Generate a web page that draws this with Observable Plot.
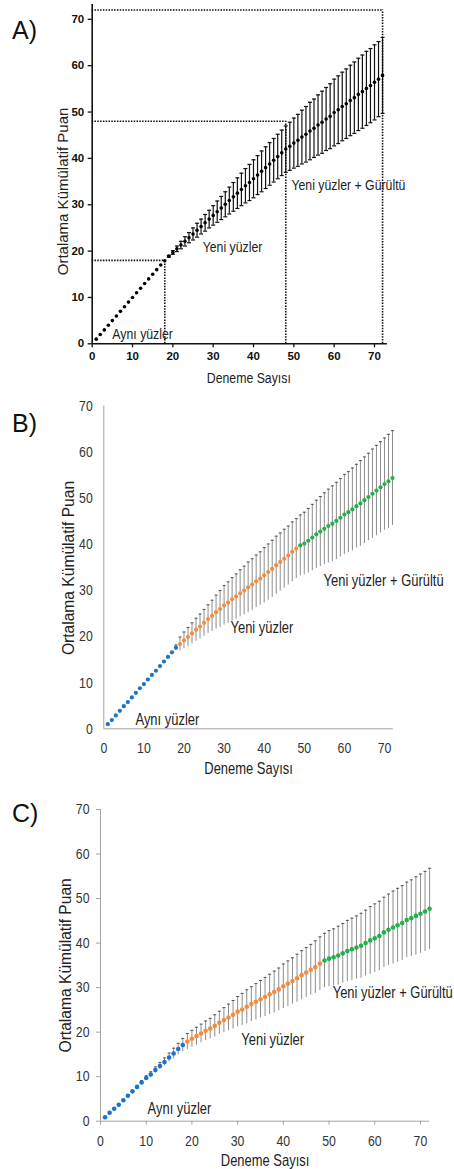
<!DOCTYPE html>
<html>
<head>
<meta charset="utf-8">
<script src="https://cdn.jsdelivr.net/npm/d3@7"></script>
<script src="https://cdn.jsdelivr.net/npm/@observablehq/plot@0.6"></script>
<style>
  body { margin: 0; background: #fff; }
  #root { position: relative; width: 454px; height: 1169px; overflow: hidden; background: #fff; }
  .panel { position: absolute; left: 0; }
  .tag { position: absolute; left: 12px; font: 25px/25px "Liberation Sans", Arial, sans-serif; color: #111; }
</style>
</head>
<body>
<div id="root"></div>
<script>
// ---------- data ----------
const trials = d3.range(1, 73);
const blockNames = ["Aynı yüzler", "Yeni yüzler", "Yeni yüzler + Gürültü"];
const blockEnds = [18, 48, 72];
const blockColors = ["#1b72c9", "#f58b3c", "#22b04b"];
const xTicks = [0, 10, 20, 30, 40, 50, 60, 70];
const yTicks = [0, 10, 20, 30, 40, 50, 60, 70];
const xTitle = "Deneme Sayısı";
const yTitle = "Ortalama Kümülatif Puan";
const panelTags = ["A)", "B)", "C)"];

// Panel A
const aMean = [
  1.0, 2.0, 3.0, 4.0, 5.0, 6.0, 7.0, 8.0, 9.0, 10.0, 11.0, 12.0, 13.0, 14.0, 15.0, 16.0, 17.0, 17.9,
  18.9, 19.7, 20.5, 21.3, 22.1, 22.9, 23.7, 24.5, 25.3, 26.1, 26.9, 27.7, 28.5, 29.3, 30.1, 30.9,
  31.7, 32.5, 33.3, 34.1, 34.8, 35.6, 36.4, 37.2, 38.0, 38.8, 39.6, 40.4, 41.2, 42.0,
  42.6, 43.3, 43.9, 44.6, 45.2, 45.9, 46.5, 47.2, 47.8, 48.5, 49.1, 49.9, 50.5, 51.2, 51.8, 52.5,
  53.1, 53.8, 54.4, 55.1, 55.7, 56.4, 57.1, 57.9
];
const aErr = [
  0, 0, 0, 0, 0, 0, 0, 0, 0, 0, 0, 0, 0, 0, 0, 0, 0, 0,
  0.2, 0.4, 0.6, 0.8, 1.0, 1.1, 1.3, 1.5, 1.6, 1.8, 1.9, 2.1, 2.3, 2.5, 2.7, 2.9,
  3.1, 3.3, 3.5, 3.7, 3.9, 4.1, 4.2, 4.4, 4.5, 4.6, 4.7, 4.8, 4.9, 5.0,
  5.2, 5.4, 5.6, 5.8, 6.0, 6.2, 6.3, 6.5, 6.7, 6.8, 7.0, 7.2, 7.3, 7.4, 7.5, 7.6,
  7.7, 7.8, 7.9, 8.0, 8.0, 8.1, 8.1, 8.2
];
// Panel B
const bMean = [
  1.0, 1.9, 2.9, 3.9, 4.9, 5.8, 6.8, 7.8, 8.8, 9.7, 10.7, 11.7, 12.6, 13.6, 14.6, 15.6, 16.6, 17.6,
  18.4, 19.2, 19.9, 20.7, 21.5, 22.2, 23.0, 23.8, 24.5, 25.3, 26.0, 26.8, 27.4, 28.1, 28.7, 29.4,
  30.0, 30.7, 31.3, 32.0, 32.6, 33.3, 34.0, 34.7, 35.5, 36.2, 36.9, 37.6, 38.4, 39.1,
  39.8, 40.2, 40.8, 41.5, 42.2, 42.8, 43.4, 44.0, 44.5, 45.1, 45.8, 46.5, 47.0, 47.6, 48.3, 48.9,
  49.6, 50.3, 51.0, 51.7, 52.4, 53.1, 53.7, 54.4
];
const bErr = [
  0, 0, 0, 0, 0, 0, 0, 0, 0, 0, 0, 0, 0, 0, 0, 0, 0, 0.6,
  1.5, 1.8, 2.1, 2.3, 2.5, 2.7, 2.9, 3.1, 3.4, 3.7, 4.0, 4.3, 4.5, 4.7, 4.9, 5.1,
  5.3, 5.5, 5.6, 5.7, 5.8, 6.0, 6.1, 6.2, 6.3, 6.3, 6.4, 6.4, 6.5, 6.5,
  6.6, 6.8, 7.0, 7.2, 7.4, 7.6, 7.8, 8.0, 8.2, 8.4, 8.5, 8.7, 8.8, 9.0, 9.1, 9.3,
  9.4, 9.5, 9.7, 9.8, 9.9, 10.0, 10.2, 10.3
];
// Panel C
const cMean = [
  0.9, 1.9, 2.8, 3.7, 4.7, 5.7, 6.7, 7.7, 8.7, 9.7, 10.5, 11.5, 12.4, 13.3, 14.3, 15.2, 16.2, 17.1,
  17.9, 18.5, 19.1, 19.7, 20.3, 20.8, 21.4, 22.1, 22.7, 23.3, 23.9, 24.6, 25.1, 25.7, 26.3, 26.8,
  27.4, 27.9, 28.5, 29.0, 29.6, 30.3, 30.9, 31.5, 32.1, 32.8, 33.4, 34.0, 34.6, 35.4,
  36.1, 36.5, 36.8, 37.2, 37.7, 38.2, 38.6, 39.0, 39.4, 40.0, 40.6, 41.1, 41.6, 42.4, 43.0, 43.5,
  44.0, 44.5, 45.2, 45.6, 46.1, 46.6, 47.1, 47.7
];
const cErr = [
  0, 0, 0, 0, 0, 0, 0, 0, 0.4, 0.5, 0.6, 0.7, 0.8, 0.9, 1.0, 1.2, 1.3, 1.5,
  1.8, 1.9, 2.0, 2.1, 2.2, 2.3, 2.5, 2.6, 2.8, 3.0, 3.2, 3.4, 3.6, 3.8, 3.9, 4.1,
  4.2, 4.4, 4.5, 4.7, 4.8, 5.0, 5.1, 5.2, 5.4, 5.5, 5.6, 5.7, 5.9, 6.0,
  6.1, 6.3, 6.4, 6.6, 6.7, 6.9, 7.0, 7.1, 7.3, 7.4, 7.6, 7.7, 7.8, 7.9, 8.0, 8.2,
  8.3, 8.4, 8.5, 8.6, 8.8, 8.9, 9.0, 9.1
];

// annotation anchors (data units) for block names
const aLabelX = [5.0, 27.4, 49.4], aLabelY = [2.0, 20.8, 34.2];
const bLabelX = [7.9, 31.6, 54.8], bLabelY = [2.0, 21.8, 32.0];
const cLabelX = [10.3, 30.8, 50.8], cLabelY = [2.8, 18.3, 28.7];

// ---------- helpers ----------
const NARROW = '"Liberation Sans Narrow", "Arial Narrow", "Liberation Sans", sans-serif';
const REG = '"Liberation Sans", Arial, sans-serif';
const CONDENSE = 0.82; // horizontal squeeze giving the reference's narrow lettering

function rows(mean, err) {
  return trials.map((t, i) => ({
    trial: t, mean: mean[i], err: err[i],
    lo: mean[i] - err[i], hi: mean[i] + err[i],
    block: blockNames[blockEnds.findIndex(e => t <= e)]
  }));
}
function labels(xs, ys) {
  return blockNames.map((name, i) => ({ name, x: xs[i], y: ys[i] }));
}
const capSymbol = {
  draw(ctx, size) {
    const w = Math.sqrt(size / Math.PI);
    ctx.moveTo(-w, 0); ctx.lineTo(w, 0);
  }
};

function titles(frameLeftDx, yDy, xDx, xDy, fontX, fontY) {
  return [
    Plot.text([xTitle], { text: d => d, frameAnchor: "bottom", dx: xDx, dy: xDy, lineAnchor: "middle",
      fontFamily: fontX.family, fontSize: fontX.size, fill: "#222", fontWeight: "normal" }),
    Plot.text([yTitle], { text: d => d, frameAnchor: "left", dx: frameLeftDx, dy: yDy, rotate: -90,
      textAnchor: "middle", lineAnchor: "middle",
      fontFamily: fontY.family, fontSize: fontY.size, fill: "#222", fontWeight: "normal" })
  ];
}

const root = document.getElementById("root");
// squeeze narrow-font texts horizontally about their own anchor point
// (Plot places each text with a translate() transform, so scaling after it keeps the anchor)
function condense(svg) {
  svg.querySelectorAll("text").forEach(t => {
    const fam = getComputedStyle(t).fontFamily || "";
    if (!fam.includes("Narrow")) return;
    const prev = t.getAttribute("transform") || "";
    t.setAttribute("transform", `${prev} scale(${CONDENSE},1)`.trim());
  });
}
function place(svg, top) {
  const wrap = document.createElement("div");
  wrap.className = "panel";
  wrap.style.top = top + "px";
  wrap.appendChild(svg);
  root.appendChild(wrap);
  condense(svg);
}
function tag(text, top) {
  const d = document.createElement("div");
  d.className = "tag";
  d.style.top = top + "px";
  d.textContent = text;
  root.appendChild(d);
}

// ---------- Panel A ----------
{
  const data = rows(aMean, aErr);
  const withErr = data.filter(d => d.err > 0);
  const svg = Plot.plot({
    width: 454, height: 390,
    marginLeft: 91.7, marginRight: 67.1, marginTop: 4, marginBottom: 46.7,
    x: { domain: [0, 73.2] },
    y: { domain: [0, 73.2] },
    style: { fontFamily: REG, fontSize: "11.5px", color: "#111", background: "#fff", overflow: "visible" },
    marks: [
      Plot.ruleY(blockEnds, { y: d => d, x1: () => 0, x2: d => d, stroke: "#111", strokeWidth: 1.6, strokeDasharray: "1.5 1.3" }),
      Plot.ruleX(blockEnds, { x: d => d, y1: () => 0, y2: d => d, stroke: "#111", strokeWidth: 1.6, strokeDasharray: "1.5 1.3" }),
      Plot.ruleX(withErr, { x: "trial", y1: "lo", y2: "hi", stroke: "#111", strokeWidth: 1.2 }),
      Plot.dot(withErr, { x: "trial", y: "hi", symbol: capSymbol, r: 2, stroke: "#111", fill: "none", strokeWidth: 1.2 }),
      Plot.dot(withErr, { x: "trial", y: "lo", symbol: capSymbol, r: 2, stroke: "#111", fill: "none", strokeWidth: 1.2 }),
      Plot.dot(data, { x: "trial", y: "mean", r: 1.8, fill: "#000" }),
      Plot.ruleX([0], { stroke: "#111", strokeWidth: 1.6 }),
      Plot.ruleY([0], { stroke: "#111", strokeWidth: 1.6 }),
      Plot.axisX({ ticks: xTicks, tickSize: 4, tickPadding: 4, label: null, fontWeight: "bold", stroke: "#111", strokeWidth: 1.3 }),
      Plot.axisY({ ticks: yTicks, tickSize: 4, tickPadding: 4, label: null, fontWeight: "bold", stroke: "#111", strokeWidth: 1.3 }),
      Plot.text(labels(aLabelX, aLabelY), { x: "x", y: "y", text: "name", textAnchor: "start", lineAnchor: "middle",
        fontFamily: NARROW, fontSize: 15, fill: "#222" }),
      ...titles(-28.7, 17.3, 9, 34.7, { family: NARROW, size: 15 }, { family: REG, size: 15 })
    ]
  });
  place(svg, 0);
  tag(panelTags[0], 18.3);
}

// ---------- Panels B and C ----------
function colourPanel(data, lab, m, xDomain, xTickSize, xPad, yPad, t, top, tagTop, tagText) {
  const withErr = data.filter(d => d.err > 0);
  const svg = Plot.plot({
    width: 454, height: m.h,
    marginLeft: m.l, marginRight: m.r, marginTop: m.t, marginBottom: m.b,
    x: { domain: xDomain },
    y: { domain: [0, 70] },
    color: { domain: blockNames, range: blockColors },
    style: { fontFamily: NARROW, fontSize: "15px", color: "#333", background: "#fff", overflow: "visible" },
    marks: [
      Plot.ruleX(withErr, { x: "trial", y1: "lo", y2: "hi", stroke: "#808080", strokeWidth: 0.9 }),
      Plot.dot(withErr, { x: "trial", y: "hi", symbol: capSymbol, r: 1.5, stroke: "#444", fill: "none", strokeWidth: 0.9 }),
      Plot.dot(data, { x: "trial", y: "mean", r: m.dot, fill: "block" }),
      Plot.ruleX([0], { stroke: "#a3a3a3", strokeWidth: 1 }),
      Plot.ruleY([0], { stroke: "#a3a3a3", strokeWidth: 1 }),
      Plot.axisX({ ticks: xTicks, tickSize: xTickSize, tickPadding: xPad, label: null, stroke: "#a3a3a3", fill: "#333" }),
      Plot.axisY({ ticks: yTicks, tickSize: xTickSize, tickPadding: yPad, label: null, stroke: "#a3a3a3", fill: "#333" }),
      Plot.text(lab, { x: "x", y: "y", text: "name", textAnchor: "start", lineAnchor: "middle",
        fontFamily: NARROW, fontSize: 15.8, fill: "#222" }),
      ...titles(t.ydx, t.ydy, t.xdx, t.xdy, { family: NARROW, size: 15.8 }, { family: REG, size: 15.6 })
    ]
  });
  place(svg, top);
  tag(tagText, tagTop);
}

colourPanel(rows(bMean, bErr), labels(bLabelX, bLabelY),
  { h: 390, l: 103.3, r: 61.2, t: 15.7, b: 51.7, dot: 2.1 }, [0, 72.2], 0, 13.5, 11,
  { ydx: -35.3, ydy: 0.5, xdx: 0, xdy: 39.7 }, 390, 410.8, panelTags[1]);

colourPanel(rows(cMean, cErr), labels(cLabelX, cLabelY),
  { h: 389, l: 100, r: 24.9, t: 29, b: 48.3, dot: 2.3 }, [0, 72], 4, 10, 7,
  { ydx: -34.3, ydy: 0, xdx: 0, xdy: 39.3 }, 780, 800.8, panelTags[2]);
</script>
</body>
</html>
